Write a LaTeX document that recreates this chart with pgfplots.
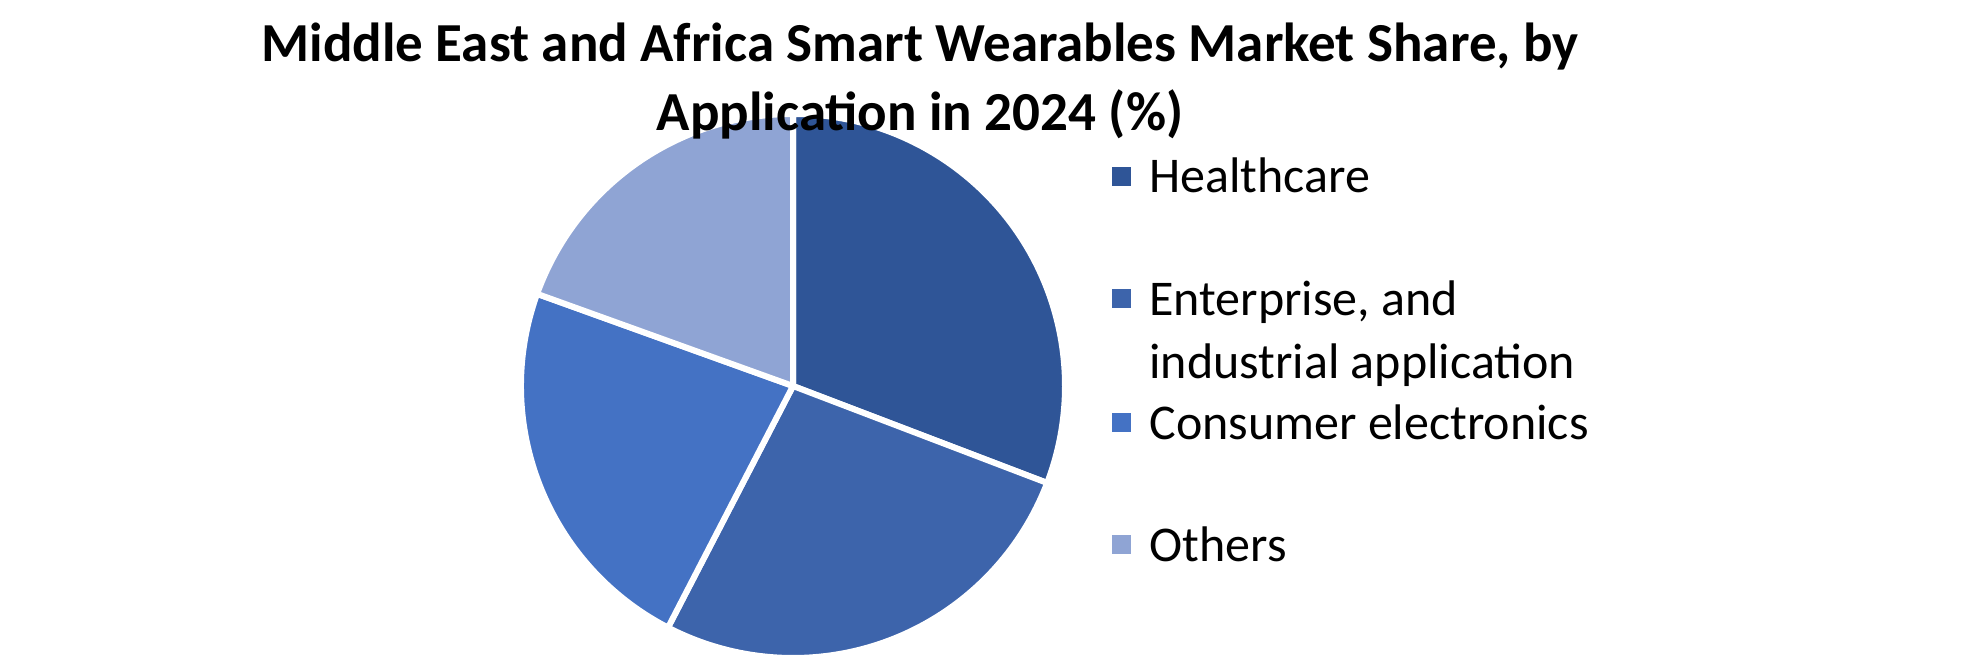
\documentclass[border=0pt]{standalone}
\usepackage{fontspec}
\setmainfont{Carlito}
\usepackage{pgfplots}
\usepackage{pgfplotstable}
\pgfplotsset{compat=1.18}

\definecolor{slice0}{HTML}{2F5597}
\definecolor{slice1}{HTML}{3D64AB}
\definecolor{slice2}{HTML}{4472C4}
\definecolor{slice3}{HTML}{8FA4D4}

% share of each application, in percent, clockwise from 12 o'clock
\pgfplotstableread[col sep=comma]{
label,share
Healthcare,30.8
Enterprise,26.8
Consumer,22.9
Others,19.5
}\sharetable

\begin{document}
\begin{tikzpicture}
\path[use as bounding box] (0,0) rectangle (990pt,330pt);

\begin{axis}[
    at={(396.5pt,137pt)}, anchor=center,
    x=136pt, y=136pt,
    xmin=-1.05, xmax=1.05, ymin=-1.05, ymax=1.05,
    hide axis, clip=false,
]
\def\cum{0}
\pgfplotsforeachungrouped \i in {0,1,2,3}{
    \pgfplotstablegetelem{\i}{share}\of\sharetable
    \pgfmathsetmacro\sa{90-3.6*\cum}
    \pgfmathsetmacro\cum{\cum+\pgfplotsretval}
    \pgfmathsetmacro\sb{90-3.6*\cum}
    \edef\temp{\noexpand\fill[fill=slice\i, draw=white, line width=3pt, line join=round]
        (axis cs:0,0) -- +(\sa:136pt) arc[start angle=\sa, end angle=\sb, radius=136pt] -- cycle;}
    \temp
}
\end{axis}

% title
\begin{scope}[every node/.style={font=\bfseries\fontsize{27.5}{33}\selectfont, anchor=base, inner sep=0pt}]
\node at (460pt,299pt) {Middle East and Africa Smart Wearables Market Share, by};
\node at (460pt,264.5pt) {Application in 2024 (\%)};
\end{scope}

% legend
\begin{scope}[every node/.style={font=\fontsize{25}{30}\selectfont, anchor=base west, inner sep=0pt}]
\fill[slice0] (556pt,237pt) rectangle ++(9.5pt,9.5pt);
\node at (574.5pt,233.5pt) {Healthcare};
\fill[slice1] (556pt,176pt) rectangle ++(9.5pt,9.5pt);
\node at (574.5pt,172.5pt) {Enterprise, and};
\node at (574.5pt,141pt) {industrial application};
\fill[slice2] (556pt,114pt) rectangle ++(9.5pt,9.5pt);
\node at (574.5pt,110.5pt) {Consumer electronics};
\fill[slice3] (556pt,53pt) rectangle ++(9.5pt,9.5pt);
\node at (574.5pt,49.5pt) {Others};
\end{scope}
\end{tikzpicture}
\end{document}
